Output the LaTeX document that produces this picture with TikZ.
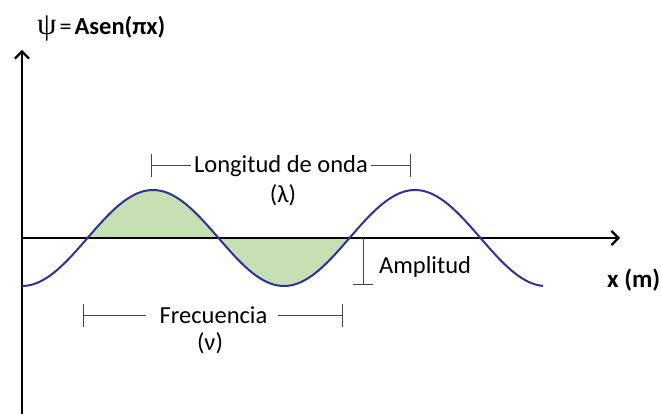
\documentclass[tikz,border=0pt]{standalone}
\usepackage{fontspec}
\setmainfont{Carlito}
\newfontfamily\psifont{Liberation Serif}
\usetikzlibrary{arrows.meta}
\definecolor{wave}{RGB}{45,50,150}
\definecolor{fillg}{RGB}{198,224,180}
\definecolor{dimc}{RGB}{70,70,70}
\tikzset{
  axis/.style={line width=2.4pt, -{Straight Barb[length=7pt,width=14pt,line width=2.2pt]}},
  dimline/.style={draw=dimc, line width=1pt},
  tickL/.style={{Bar[width=23pt,line width=1pt]}-},
  tickR/.style={-{Bar[width=23pt,line width=1pt]}},
  lbl/.style={font=\fontsize{24.5}{28}\selectfont, inner sep=0pt},
  blbl/.style={font=\bfseries\fontsize{25}{28}\selectfont, inner sep=0pt},
  eqlbl/.style={font=\bfseries\fontsize{24.5}{28}\selectfont, inner sep=0pt}
}
\begin{document}
\begin{tikzpicture}[x=1pt,y=-1pt]
\useasboundingbox (0,0) rectangle (661,414);
% fill
\fill[fillg] plot[domain=87.5:349.5, samples=120] (\x, {238+48*cos(1.374046*(\x-22))}) -- cycle;
% axes
\coordinate (o) at (22,238);
\coordinate (ybot) at (22,414);
\coordinate (ytop) at (22,50);
\coordinate (xend) at (620,238);
\draw[axis] (o) -- (xend);
\draw[axis] (ybot) -- (ytop);
% wave
\draw[wave, line width=2pt] plot[domain=22:543, samples=200] (\x, {238+48*cos(1.374046*(\x-22))});
% equation
\node[eqlbl, anchor=base west] (eq) at (37,35) {{\psifont\mdseries\fontsize{31}{34}\selectfont ψ}\hspace{3pt}{\mdseries\fontsize{24}{28}\selectfont =}\hspace{3pt}Asen(πx)};
% wavelength
\node[lbl, anchor=base] (lon) at (281,173) {Longitud de onda};
\node[lbl, anchor=base] (lam) at (283,203) {(λ)};
\coordinate (lL) at (151,166);
\coordinate (lR) at (411,166);
\draw[dimline, tickL] (lL) -- ([xshift=-3pt]lon.west |- lL);
\draw[dimline, tickR] ([xshift=3pt]lon.east |- lR) -- (lR);
% amplitude
\coordinate (aT) at (363,238);
\coordinate (aB) at (363,285);
\draw[dimline, -{Bar[width=20pt,line width=1pt]}] (aT) -- (aB);
\node[lbl, anchor=base west] (amp) at (379,273) {Amplitud};
% frequency
\node[lbl, anchor=base] (fre) at (213.5,323) {Frecuencia};
\node[lbl, anchor=base] (nu) at (210,350) {(ν)};
\coordinate (fL) at (83,315);
\coordinate (fR) at (343,315);
\draw[dimline, tickL] (fL) -- ([xshift=-13pt]fre.west |- fL);
\draw[dimline, tickR] ([xshift=10pt]fre.east |- fR) -- (fR);
% x label
\node[blbl, anchor=base west] (xl) at (607,287) {x (m)};
\end{tikzpicture}
\end{document}
